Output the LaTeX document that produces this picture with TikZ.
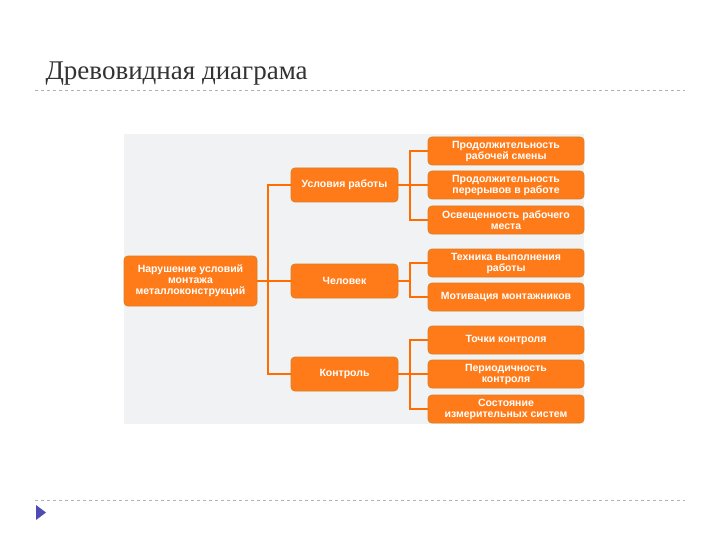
\documentclass[tikz,border=0pt]{standalone}
\usepackage{fontspec}
\setmainfont{Liberation Serif}
\newfontfamily\boxfont{Liberation Sans}
\begin{document}
\begin{tikzpicture}[x=1pt,y=-1pt,
  box/.style={draw=orange!40!brown, line width=0.8pt, fill=orange!85!red!90!white, rounded corners=4pt, text=white, font=\boxfont\bfseries\fontsize{10.5}{11}\selectfont, align=center, inner sep=1pt},
  conn/.style={draw=orange!85!red, line width=1.6pt}]
\useasboundingbox (0,0) rectangle (720,540);
\fill[white] (0,0) rectangle (720,540);
\node[anchor=base west, font=\fontsize{27}{30}\selectfont, text=black!80] (title) at (42,80) {Древовидная диаграма};
\draw[gray!60, dashed] (35,90) -- (685,90);
\draw[gray!60, dashed] (35,500) -- (685,500);
\fill[blue!40!gray] (36,505) -- (46,512.5) -- (36,520) -- cycle;
\fill[cyan!10!gray!12] (124,134) rectangle (584,424);
% nodes
\node[box, minimum width=133, minimum height=50] (root) at (190.5,281) {Нарушение условий\\монтажа\\металлоконструкций};
\node[box, minimum width=107, minimum height=34] (m1) at (344.5,185) {Условия работы};
\node[box, minimum width=107, minimum height=34] (m2) at (344.5,281) {Человек};
\node[box, minimum width=107, minimum height=34] (m3) at (344.5,374) {Контроль};
\foreach \n/\y/\t in {l1/151/{Продолжительность\\рабочей смены},l2/185/{Продолжительность\\перерывов в работе},l3/220/{Освещенность рабочего\\места},l4/263/{Техника выполнения\\работы},l5/297/{Мотивация монтажников},l6/340/{Точки контроля},l7/374/{Периодичность\\контроля},l8/409/{Состояние\\измерительных систем}}
  \node[box, minimum width=156, minimum height=28] (\n) at (506,\y) {\t};
% connectors
\coordinate (t) at (268,0);
\begin{scope}[on background layer/.try]
\end{scope}
\draw[conn] (root.east) -- (m2.west);
\draw[conn] (m1.west) -| (t |- root.east);
\draw[conn] (m3.west) -| (t |- root.east);
\coordinate (b) at (410,0);
\foreach \m/\ls in {m1/{l1,l2,l3},m2/{l4,l5},m3/{l6,l7,l8}}{
  \draw[conn] (\m.east) -- (b |- \m.east);
  \foreach \l in \ls { \draw[conn] (\l.west) -| (b |- \m.east); }
}
\end{tikzpicture}
\end{document}
